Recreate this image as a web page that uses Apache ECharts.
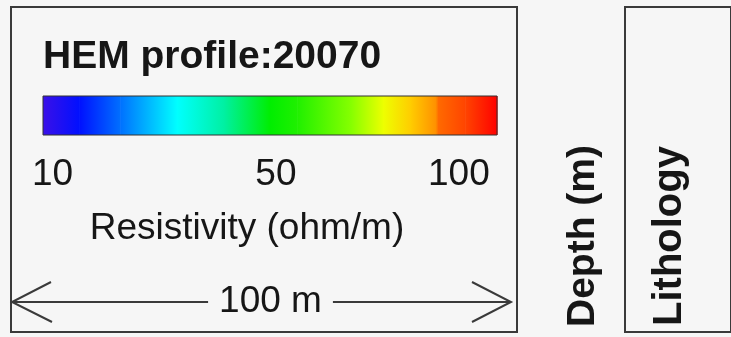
<!DOCTYPE html>
<html>
<head>
<meta charset="utf-8">
<script src="https://cdn.jsdelivr.net/npm/echarts@6/dist/echarts.min.js"></script>
<style>
    html, body { margin: 0; padding: 0; background: #f6f6f6; }
    #chart { width: 731px; height: 337px; }
</style>
</head>
<body>
<div id="chart"></div>
<script>
const profileTitle = "HEM profile:20070";

// colour ramp of the resistivity bar, position along the bar (0..1)
const rampStops = [0, 0.08, 0.17, 0.295, 0.4, 0.5, 0.56, 0.68, 0.75, 0.81, 0.865, 0.87, 0.93, 1];
const rampColors = ["#3a10e8", "#0010ff", "#0070ff", "#00ffff", "#00f0a0", "#00ee00", "#20f000",
    "#88ff00", "#eeff00", "#ffcc00", "#ff9000", "#ff6a00", "#ff4400", "#ff0000"];

// resistivity labels under the bar and where they sit along it
const tickLabels = ["10", "50", "100"];
const tickStops = [0.021, 0.513, 0.916];
const barTitle = "Resistivity (ohm/m)";

// horizontal scale bar (m)
const scaleRange = [0, 100];
const scaleLabel = "100 m";

const logColumns = ["Depth (m)", "Lithology"];

const FONT = "Arial, 'Liberation Sans', sans-serif";
const INK = "#161616";
const BORDER = "#3a3a3a";
const BG = "#f6f6f6";

const chart = echarts.init(document.getElementById("chart"));

const rampSegments = rampStops.slice(1).map((s, i) => [rampStops[i], s, i]);

function renderRamp(params, api) {
    const a = api.coord([api.value(0), 0]);
    const b = api.coord([api.value(1), 1]);
    const i = api.value(2);
    return {
        type: "rect",
        shape: { x: a[0], y: b[1], width: b[0] - a[0] + 0.6, height: a[1] - b[1] },
        style: {
            fill: new echarts.graphic.LinearGradient(0, 0, 1, 0, [
                { offset: 0, color: rampColors[i] },
                { offset: 1, color: rampColors[i + 1] }
            ])
        }
    };
}

function renderScale(params, api) {
    const p0 = api.coord([api.value(0), 0]);
    const p1 = api.coord([api.value(1), 0]);
    const line = { stroke: BORDER, lineWidth: 2, fill: null };
    return {
        type: "group",
        children: [
            { type: "line", shape: { x1: p0[0], y1: p0[1], x2: p1[0], y2: p1[1] }, style: line },
            { type: "polyline", shape: { points: [[p0[0] + 39, p0[1] - 20], p0, [p0[0] + 40, p0[1] + 20]] }, style: line },
            { type: "polyline", shape: { points: [[p1[0] - 39, p1[1] - 20], p1, [p1[0] - 39, p1[1] + 20]] }, style: line },
            {
                type: "text",
                x: (p0[0] + p1[0]) / 2 + 9,
                y: p0[1],
                style: {
                    text: scaleLabel,
                    align: "center",
                    verticalAlign: "middle",
                    font: "37px " + FONT,
                    fill: INK,
                    backgroundColor: BG,
                    padding: [0, 11]
                }
            }
        ]
    };
}

const hidden = { axisLine: { show: false }, axisTick: { show: false }, axisLabel: { show: false }, splitLine: { show: false } };

const option = {
    backgroundColor: BG,
    animation: false,
    title: {
        text: profileTitle,
        left: 43,
        top: 38,
        padding: 0,
        textStyle: { fontFamily: FONT, fontSize: 39, fontWeight: "bold", color: INK }
    },
    grid: [
        { left: 43, top: 96, width: 454, height: 39, show: true, borderColor: "#333", borderWidth: 1, z: 10 },
        { left: 11, top: 7, width: 506, height: 325, show: true, borderColor: BORDER, borderWidth: 2 },
        { left: 12, top: 292, width: 499, height: 20 },
        { left: 625, top: 7, width: 200, height: 325, show: true, borderColor: BORDER, borderWidth: 2 },
        { left: 625, top: 145, width: 22, height: 182 }
    ],
    xAxis: [
        {
            gridIndex: 0, type: "value", min: 0, max: 1,
            axisLine: { show: false }, axisTick: { show: false }, splitLine: { show: false },
            axisLabel: {
                customValues: tickStops,
                formatter: v => {
                    let k = 0;
                    tickStops.forEach((s, i) => { if (Math.abs(s - v) < Math.abs(tickStops[k] - v)) k = i; });
                    return tickLabels[k];
                },
                margin: 21,
                fontFamily: FONT, fontSize: 37, color: INK
            },
            name: barTitle,
            nameLocation: "middle",
            nameGap: 75,
            nameTextStyle: { fontFamily: FONT, fontSize: 37, color: INK, padding: [0, 46, 0, 0] }
        },
        { gridIndex: 1, show: false },
        { gridIndex: 2, type: "value", min: scaleRange[0], max: scaleRange[1], show: false },
        { gridIndex: 3, show: false },
        { gridIndex: 4, show: false }
    ],
    yAxis: [
        { gridIndex: 0, type: "value", min: 0, max: 1, show: false },
        { gridIndex: 1, show: false },
        { gridIndex: 2, type: "value", min: -1, max: 1, show: false },
        { gridIndex: 3, show: false },
        Object.assign({
            gridIndex: 4, type: "value", position: "left",
            name: logColumns[0], nameLocation: "middle", nameGap: 22,
            nameTextStyle: { fontFamily: FONT, fontSize: 39, fontWeight: "bold", color: INK }
        }, hidden),
        Object.assign({
            gridIndex: 4, type: "value", position: "right",
            name: logColumns[1], nameLocation: "middle", nameGap: 3,
            nameTextStyle: { fontFamily: FONT, fontSize: 40, fontWeight: "bold", color: INK }
        }, hidden)
    ],
    series: [
        { type: "custom", xAxisIndex: 0, yAxisIndex: 0, renderItem: renderRamp, data: rampSegments },
        { type: "custom", xAxisIndex: 2, yAxisIndex: 2, renderItem: renderScale, data: [scaleRange] }
    ]
};

chart.setOption(option);
window.addEventListener("resize", () => chart.resize());
</script>
</body>
</html>
